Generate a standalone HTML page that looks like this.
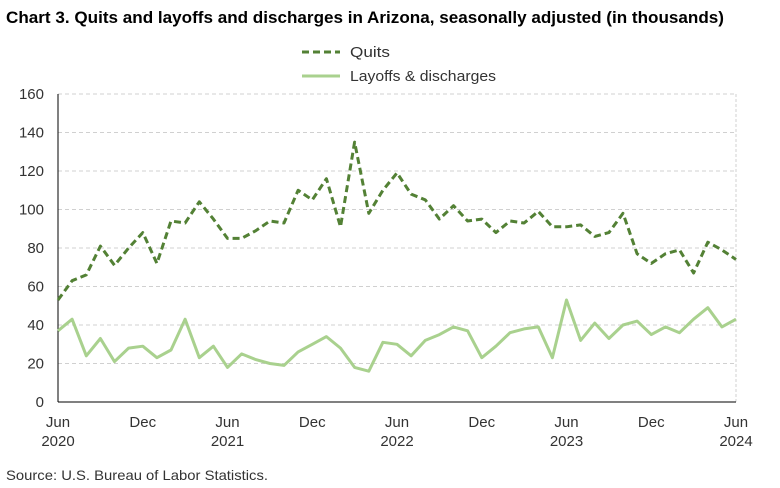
<!DOCTYPE html>
<html><head><meta charset="utf-8"><style>
body{margin:0;background:#fff;}
svg{display:block;font-family:"Liberation Sans",Arial,sans-serif;}
</style></head><body>
<svg id="s" width="780" height="488" viewBox="0 0 780 488">
<text x="6" y="23" font-size="16.5" font-weight="bold" fill="#000" textLength="718" lengthAdjust="spacingAndGlyphs">Chart 3. Quits and layoffs and discharges in Arizona, seasonally adjusted (in thousands)</text>
<line x1="302" y1="52" x2="340" y2="52" stroke="#538135" stroke-width="3" stroke-dasharray="7,4"/>
<text x="350" y="57" font-size="15" fill="#333" textLength="40" lengthAdjust="spacingAndGlyphs">Quits</text>
<line x1="302" y1="76" x2="340" y2="76" stroke="#a9d18e" stroke-width="3"/>
<text x="350" y="81" font-size="15" fill="#333" textLength="146" lengthAdjust="spacingAndGlyphs">Layoffs &amp; discharges</text>
<g id="g"></g>
<text x="6" y="480" font-size="14" fill="#333" textLength="262" lengthAdjust="spacingAndGlyphs">Source: U.S. Bureau of Labor Statistics.</text>
</svg>
<script>
var g=document.getElementById('g'),h='';
var x0=58,x1=736,y0=402,sy=308/160,dx=(x1-x0)/48;
function Y(v){return y0-v*sy;}
for(var v=20;v<=160;v+=20){h+='<line x1="'+x0+'" x2="'+x1+'" y1="'+Y(v)+'" y2="'+Y(v)+'" stroke="#d0d0d0" stroke-dasharray="4,3"/>';}
for(var v=0;v<=160;v+=20){h+='<text x="44" y="'+(Y(v)+5)+'" font-size="15" text-anchor="end" fill="#333">'+v+'</text>';}
h+='<line x1="'+x1+'" x2="'+x1+'" y1="94" y2="402" stroke="#d0d0d0" stroke-dasharray="3,2"/>';
h+='<line x1="'+x0+'" x2="'+x0+'" y1="94" y2="402" stroke="#000"/>';
h+='<line x1="'+x0+'" x2="'+x1+'" y1="402" y2="402" stroke="#000"/>';
var labs=['Jun','Dec'],yrs={0:'2020',12:'2021',24:'2022',36:'2023',48:'2024'};
for(var i=0;i<=48;i+=6){var x=x0+i*dx;h+='<text x="'+x+'" y="427" font-size="15" text-anchor="middle" fill="#333">'+labs[(i/6)%2]+'</text>';if(yrs[i])h+='<text x="'+x+'" y="446" font-size="15" text-anchor="middle" fill="#333">'+yrs[i]+'</text>';}
var q=[53,63,66,81,71,80,88,72,94,93,104,95,85,85,89,94,93,110,105,116,91,135,98,110,119,108,105,95,102,94,95,88,94,93,99,91,91,92,86,88,98,77,72,77,79,67,83,79,74];
var l=[37,43,24,33,21,28,29,23,27,43,23,29,18,25,22,20,19,26,30,34,28,18,16,31,30,24,32,35,39,37,23,29,36,38,39,23,53,32,41,33,40,42,35,39,36,43,49,39,43];
function pts(a){return a.map(function(v,i){return (x0+i*dx).toFixed(1)+','+Y(v).toFixed(1);}).join(' ');}
h+='<polyline points="'+pts(l)+'" fill="none" stroke="#a9d18e" stroke-width="3" stroke-linejoin="round"/>';
h+='<polyline points="'+pts(q)+'" fill="none" stroke="#538135" stroke-width="3" stroke-dasharray="7,4" stroke-linejoin="round"/>';
g.innerHTML=h;
</script>
</body></html>
